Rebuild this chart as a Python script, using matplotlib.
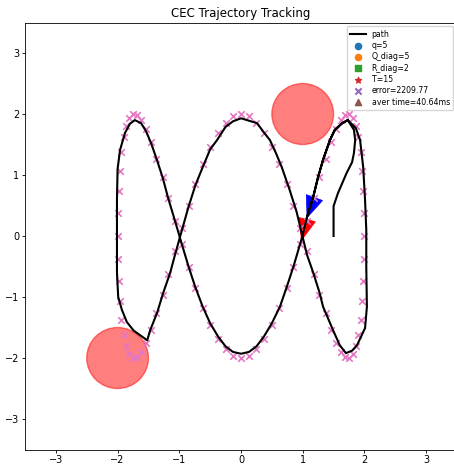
import matplotlib
matplotlib.use("Agg")
import matplotlib.pyplot as plt

# reference trajectory samples (pink x markers)
ref_x = [2.00, 2.00, 1.98, 1.96, 1.94, 1.90, 1.86, 1.81, 1.75, 1.69,
         1.62, 1.54, 1.46, 1.37, 1.27, 1.18, 1.07, 0.96, 0.85, 0.74,
         0.62, 0.50, 0.37, 0.25, 0.13, 0.00, -0.13, -0.25, -0.37, -0.50,
         -0.62, -0.74, -0.85, -0.96, -1.07, -1.18, -1.27, -1.37, -1.46, -1.54,
         -1.62, -1.69, -1.75, -1.81, -1.86, -1.90, -1.94, -1.96, -1.98, -2.00,
         -2.00, -2.00, -1.98, -1.96, -1.94, -1.90, -1.86, -1.81, -1.75, -1.69,
         -1.62, -1.54, -1.46, -1.37, -1.27, -1.18, -1.07, -0.96, -0.85, -0.74,
         -0.62, -0.50, -0.37, -0.25, -0.13, 0.00, 0.13, 0.25, 0.37, 0.50,
         0.62, 0.74, 0.85, 0.96, 1.07, 1.18, 1.27, 1.37, 1.46, 1.54,
         1.62, 1.69, 1.75, 1.81, 1.86, 1.90, 1.94, 1.96, 1.98, 2.00]
ref_y = [0.00, 0.37, 0.74, 1.07, 1.37, 1.62, 1.81, 1.94, 2.00, 1.98,
         1.90, 1.75, 1.54, 1.27, 0.96, 0.62, 0.25, -0.13, -0.50, -0.85,
         -1.18, -1.46, -1.69, -1.86, -1.96, -2.00, -1.96, -1.86, -1.69, -1.46,
         -1.18, -0.85, -0.50, -0.13, 0.25, 0.62, 0.96, 1.27, 1.54, 1.75,
         1.90, 1.98, 2.00, 1.94, 1.81, 1.62, 1.37, 1.07, 0.74, 0.37,
         0.00, -0.37, -0.74, -1.07, -1.37, -1.62, -1.81, -1.94, -2.00, -1.98,
         -1.90, -1.75, -1.54, -1.27, -0.96, -0.62, -0.25, 0.13, 0.50, 0.85,
         1.18, 1.46, 1.69, 1.86, 1.96, 2.00, 1.96, 1.86, 1.69, 1.46,
         1.18, 0.85, 0.50, 0.13, -0.25, -0.62, -0.96, -1.27, -1.54, -1.75,
         -1.90, -1.98, -2.00, -1.94, -1.81, -1.62, -1.37, -1.07, -0.74, -0.37]

# robot path (black line)
path_x = [1.50, 1.50, 1.57, 1.71, 1.80, 1.83, 1.85, 1.83, 1.73,
          1.64, 1.52, 1.44, 1.33, 1.25, 1.17, 1.07, 0.99,
          0.85, 0.74, 0.63, 0.50, 0.37, 0.25, 0.13, 0.00, -0.13, -0.25, -0.37,
          -0.50, -0.62, -0.74, -0.85, -0.96, -1.07, -1.18, -1.27, -1.37, -1.46,
          -1.54, -1.62, -1.72, -1.80, -1.88, -1.96, -2.00, -2.01, -2.01, -2.01,
          -1.99, -1.93, -1.85, -1.74, -1.52, -1.47, -1.36, -1.26, -1.15, -1.07,
          -0.99, -0.85, -0.74, -0.62, -0.50, -0.39, -0.25, -0.13, 0.00, 0.13,
          0.26, 0.37, 0.47, 0.57, 0.66, 0.79, 0.90, 0.99, 1.07, 1.17, 1.27,
          1.33, 1.41, 1.49, 1.60, 1.70, 1.80, 1.88, 2.01, 2.04, 2.03, 2.03,
          2.01, 1.98, 1.93, 1.86, 1.73, 1.64, 1.52, 1.44, 1.33, 1.25, 1.17, 1.07]
path_y = [0.00, 0.49, 0.70, 1.03, 1.21, 1.36, 1.57, 1.74, 1.90,
          1.85, 1.74, 1.57, 1.25, 0.97, 0.64, 0.31, -0.02,
          -0.50, -0.84, -1.16, -1.43, -1.65, -1.81, -1.90, -1.93, -1.90, -1.81,
          -1.65, -1.43, -1.16, -0.84, -0.50, -0.13, 0.25, 0.62, 0.96, 1.27,
          1.53, 1.72, 1.85, 1.90, 1.84, 1.69, 1.41, 1.10, 0.60, 0.00, -0.60,
          -1.00, -1.21, -1.41, -1.55, -1.71, -1.54, -1.26, -0.93, -0.61, -0.31,
          -0.02, 0.48, 0.83, 1.13, 1.42, 1.57, 1.79, 1.88, 1.93, 1.89,
          1.85, 1.70, 1.57, 1.35, 1.13, 0.75, 0.40, 0.02, -0.31, -0.60, -0.92,
          -1.16, -1.35, -1.54, -1.79, -1.92, -1.88, -1.79, -1.51, -1.16, -0.50, 0.10,
          0.59, 1.13, 1.57, 1.77, 1.90, 1.85, 1.74, 1.57, 1.25, 0.97, 0.64, 0.31]

# obstacles (x, y, r)
obs_x = [1.0, -2.0]
obs_y = [2.0, -2.0]
obs_r = [0.5, 0.5]

# heading arrows: robot (red) and reference (blue)
arr_x = [1.07, 1.19]
arr_y = [0.27, 0.63]
arr_dx = [-0.09, -0.12]
arr_dy = [-0.34, -0.33]
arr_col = ["red", "blue"]

legend_labels = ["q=5", "Q_diag=5", "R_diag=2", "T=15", "error=2209.77", "aver time=40.64ms"]
legend_markers = ["o", "o", "s", "*", "x", "^"]

fig = plt.figure(figsize=(4.54, 4.70), dpi=100)
ax = fig.add_axes([0.0551, 0.0436, 0.9515, 0.9085])

for cx, cy, r in zip(obs_x, obs_y, obs_r):
    ax.add_patch(plt.Circle((cx, cy), r, color="r", alpha=0.5, zorder=1))

for x, y, dx, dy, c in zip(arr_x, arr_y, arr_dx, arr_dy, arr_col):
    L = (dx ** 2 + dy ** 2) ** 0.5
    ax.arrow(x, y, dx, dy, width=0.01, head_width=0.28, head_length=L,
             length_includes_head=True, color=c, lw=0.5, zorder=2)

ax.scatter(ref_x, ref_y, marker="x", s=22, color="C6", linewidths=1.2, zorder=3)
ax.plot(path_x, path_y, color="k", linewidth=1.5, label="path", zorder=4)

for i, (lab, m) in enumerate(zip(legend_labels, legend_markers)):
    ax.scatter([], [], marker=m, s=20, color="C%d" % i, label=lab)

ax.set_xlim(-3.5, 3.5)
ax.set_ylim(-3.5, 3.5)
ax.set_title("CEC Trajectory Tracking", fontsize=8.5, pad=4)
ax.tick_params(labelsize=7, length=2.3, width=0.6, pad=2)
for s in ax.spines.values():
    s.set_linewidth(0.6)
ax.legend(loc="upper right", fontsize=5.6, labelspacing=0.3)

fig.savefig("out.png", dpi=100)
